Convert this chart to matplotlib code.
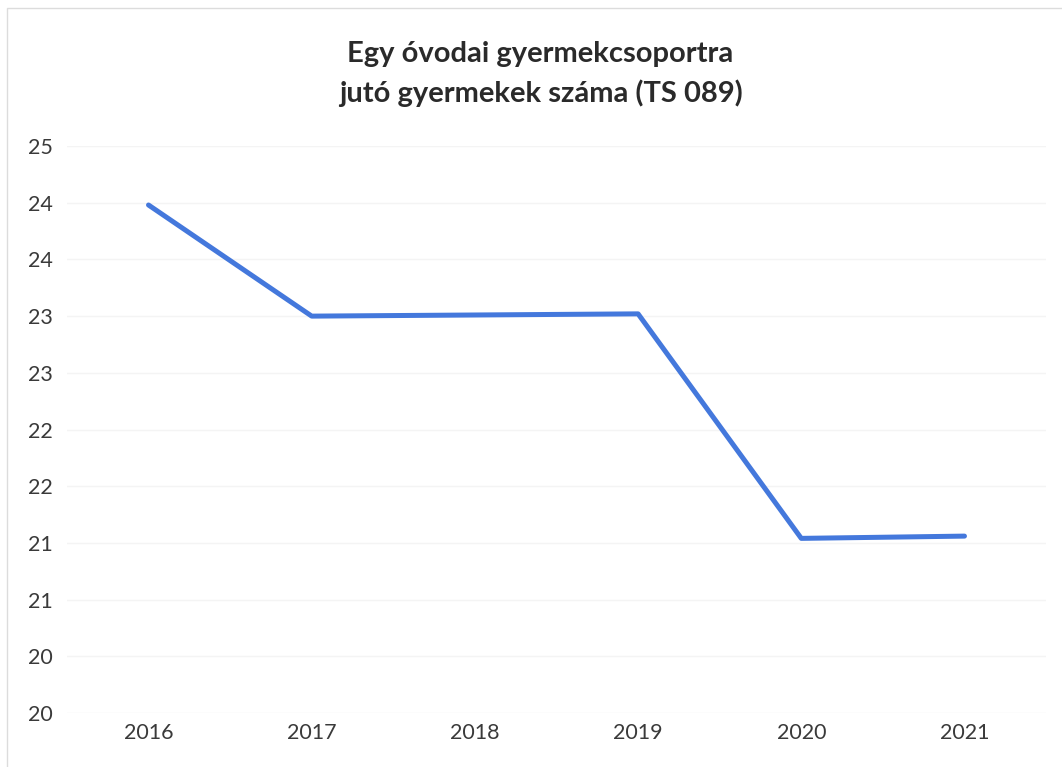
import math
from matplotlib import pyplot as plt
from matplotlib.ticker import FuncFormatter, MultipleLocator
import matplotlib.patches as mpatches

plt.rcParams['font.family'] = ['Lato', 'DejaVu Sans']

years = ['2016', '2017', '2018', '2019', '2020', '2021']
children_per_group = [23.98, 23.0, 23.01, 23.02, 21.04, 21.06]
title = 'Egy óvodai gyermekcsoportra\njutó gyermekek száma (TS 089)'


# excel style label: round half up, no decimals
def excel_round(v, pos):
    return str(int(math.floor(v + 0.5)))


fig = plt.figure(figsize=(10.62, 7.67), dpi=100)
ax = fig.add_axes([0.063, 0.0704, 0.922, 0.7392])

x = list(range(len(years)))
ax.plot(x, children_per_group, color='#4478dc', linewidth=3.6, solid_capstyle='round')

ax.set_xlim(-0.5, len(years) - 0.5)
ax.set_ylim(19.5, 24.5)
ax.yaxis.set_major_locator(MultipleLocator(0.5))
ax.yaxis.set_major_formatter(FuncFormatter(excel_round))
ax.set_xticks(x, years)

ax.grid(axis='y', color='#f4f4f4', linewidth=1)
ax.set_axisbelow(True)
for s in ax.spines.values():
    s.set_visible(False)
ax.tick_params(length=0, labelsize=15.5, colors='#3a3a3a')
ax.tick_params(axis='y', pad=10)
ax.tick_params(axis='x', pad=7)

fig.text(0.509, 0.903, title, ha='center', va='center', fontsize=21,
         fontweight='bold', color='#2a2a2a', linespacing=1.55)

# faint chart border from the scan
fig.patches.append(mpatches.Rectangle((0.007, -0.01), 1.1, 1.0, transform=fig.transFigure,
                                      fill=False, edgecolor='#dcdcdc', linewidth=1))

fig.savefig('out.png', dpi=100)
